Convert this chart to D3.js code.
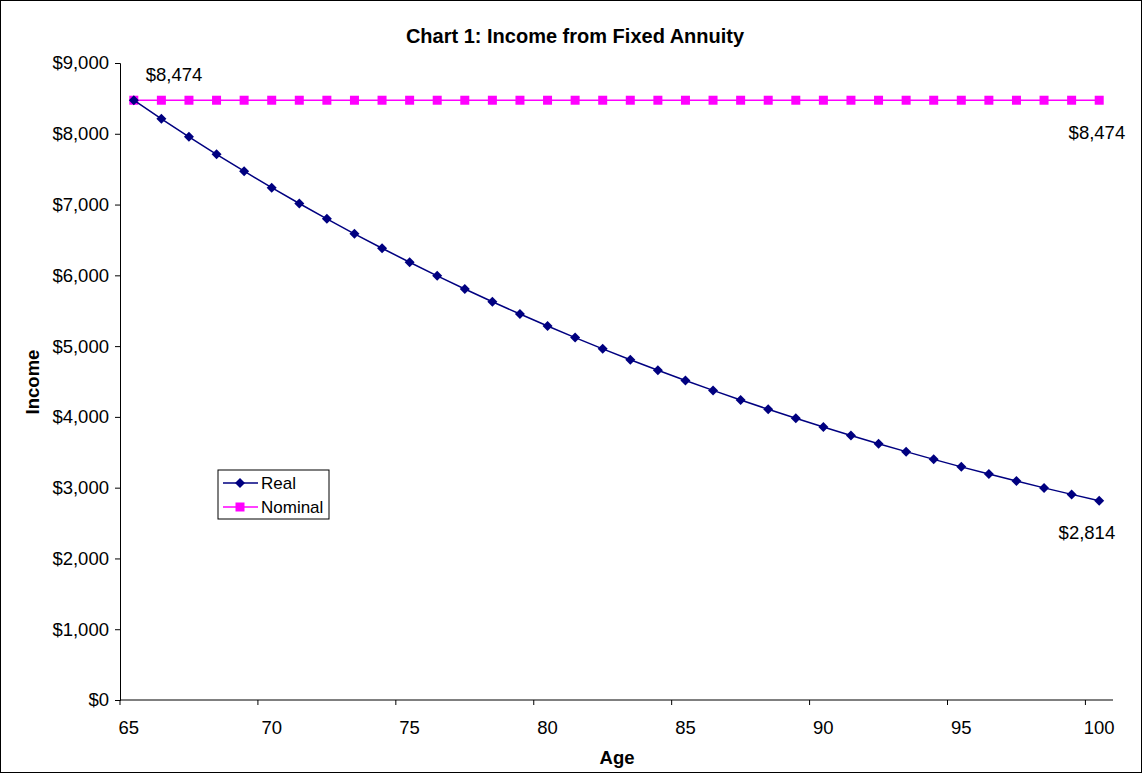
<!DOCTYPE html>
<html><head><meta charset="utf-8">
<script src="https://cdn.jsdelivr.net/npm/d3@7"></script>
<style>body{margin:0;background:#fff}text{font-family:"Liberation Sans",Arial,sans-serif}</style>
</head><body><svg width="1143" height="773"></svg>
<script>
const ages = d3.range(65, 101);
const realValues = [8474,8211,7957,7710,7471,7239,7015,6798,6587,6383,6185,5993,5807,5627,5453,5284,5120,4961,4807,4658,4514,4374,4238,4107,3980,3856,3737,3621,3509,3400,3294,3192,3093,2997,2905,2814];
const nominalValues = ages.map(() => 8474);
const yTicks = [0,1000,2000,3000,4000,5000,6000,7000,8000,9000];
const xTickLabels = [65,70,75,80,85,90,95,100];

const svg = d3.select("svg");
svg.append("rect").attr("x",0.5).attr("y",0.5).attr("width",1141).attr("height",772).attr("fill","#fff").attr("stroke","#000");
const L=120,R=1113,T=63,B=700;
const x = d3.scaleBand().domain(ages).range([L,R]);
const y = d3.scaleLinear().domain([0,9000]).range([B,T]);
const fmt = d => "$" + d3.format(",")(d);
const FS=18.5;

const ya = svg.append("g").attr("transform",`translate(${L},0)`).call(d3.axisLeft(y).tickValues(yTicks).tickFormat(fmt).tickSize(5).tickPadding(6));
ya.selectAll("text").attr("font-size",FS).attr("fill","#000");
ya.select(".domain").attr("stroke","#000");
ya.selectAll(".tick line").attr("stroke","#000");

const xa = svg.append("g").attr("transform",`translate(0,${B})`);
xa.append("line").attr("x1",L).attr("x2",R).attr("stroke","#000");
xa.selectAll("line.t").data(xTickLabels).join("line").attr("class","t")
  .attr("x1",d=>x(d)).attr("x2",d=>x(d)).attr("y1",0).attr("y2",5).attr("stroke","#000");
xa.selectAll("text").data(xTickLabels).join("text")
  .attr("x",d=>x(d)+x.bandwidth()/2 - (d===65?5:0)).attr("y",34).attr("text-anchor","middle").attr("font-size",FS).text(d=>d);

const cx = d => x(d)+x.bandwidth()/2;
const line = d3.line().x((d,i)=>cx(ages[i])).y(d=>y(d));
svg.append("path").datum(nominalValues).attr("d",line).attr("fill","none").attr("stroke","#FF00FF").attr("stroke-width",1.5);
svg.selectAll("rect.nm").data(nominalValues).join("rect").attr("class","nm")
  .attr("x",(d,i)=>cx(ages[i])-4.5).attr("y",d=>y(d)-4.5).attr("width",9).attr("height",9).attr("fill","#FF00FF");
svg.append("path").datum(realValues).attr("d",line).attr("fill","none").attr("stroke","#000080").attr("stroke-width",1.5);
const diamond = "M0,-5L5,0L0,5L-5,0Z";
svg.selectAll("path.rl").data(realValues).join("path").attr("class","rl")
  .attr("transform",(d,i)=>`translate(${cx(ages[i])},${y(d)})`).attr("d",diamond).attr("fill","#000080");

svg.append("text").attr("x",cx(65)+12).attr("y",y(nominalValues[0])-19).attr("font-size",FS).text(fmt(nominalValues[0]));
svg.append("text").attr("x",cx(100)+26).attr("y",y(nominalValues[35])+39).attr("text-anchor","end").attr("font-size",FS).text(fmt(nominalValues[35]));
svg.append("text").attr("x",cx(100)+16).attr("y",y(realValues[35])+38).attr("text-anchor","end").attr("font-size",FS).text(fmt(realValues[35]));

svg.append("text").attr("x",575).attr("y",43).attr("text-anchor","middle").attr("font-size",20).attr("font-weight","bold").text("Chart 1: Income from Fixed Annuity");
svg.append("text").attr("x",617).attr("y",764).attr("text-anchor","middle").attr("font-size",FS).attr("font-weight","bold").text("Age");
svg.append("text").attr("transform","translate(39,382) rotate(-90)").attr("text-anchor","middle").attr("font-size",FS).attr("font-weight","bold").text("Income");

const lg = svg.append("g").attr("transform","translate(218,470)");
lg.append("rect").attr("width",111).attr("height",49).attr("fill","#fff").attr("stroke","#000");
const items=[["Real","#000080","d"],["Nominal","#FF00FF","s"]];
items.forEach((it,i)=>{
  const yy=13+i*24;
  lg.append("line").attr("x1",5).attr("x2",40).attr("y1",yy).attr("y2",yy).attr("stroke",it[1]).attr("stroke-width",1.5);
  if(it[2]==="d") lg.append("path").attr("d",diamond).attr("transform",`translate(22,${yy})`).attr("fill",it[1]);
  else lg.append("rect").attr("x",17.5).attr("y",yy-4.5).attr("width",9).attr("height",9).attr("fill",it[1]);
  lg.append("text").attr("x",43).attr("y",yy+6).attr("font-size",17).text(it[0]);
});
</script></body></html>
